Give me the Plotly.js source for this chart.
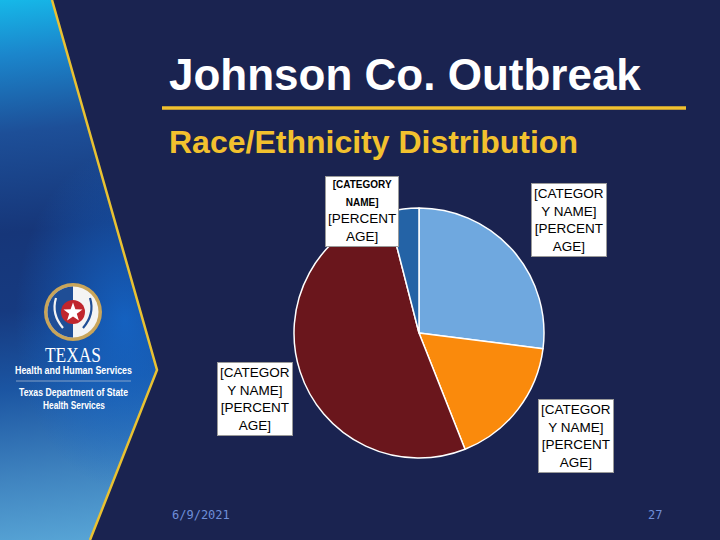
<!DOCTYPE html>
<html>
<head>
<meta charset="utf-8">
<script src="https://cdn.plot.ly/plotly-3.0.1.min.js"></script>
<style>
  html, body { margin: 0; padding: 0; }
  body { width: 720px; height: 540px; overflow: hidden; background: #1a2350; position: relative; font-family: "Liberation Sans", Arial, sans-serif; }
  #panel {
    position: absolute; left: 0; top: 0; width: 160px; height: 540px;
    clip-path: polygon(0 0, 52px 0, 157px 370px, 90px 540px, 0 540px);
    background:
      radial-gradient(ellipse 110px 170px at 125px 320px, rgba(20,105,205,0.8), rgba(20,105,205,0) 100%),
      linear-gradient(174deg, #16b8e8 0%, #1b86cc 10%, #1d4f98 24%, #163679 42%, #163a80 56%, #1b55a2 70%, #3f83bf 86%, #5aa8d8 100%);
  }
  #deco { position: absolute; left: 0; top: 0; }
  #chart { position: absolute; left: 0; top: 0; width: 720px; height: 540px; }
</style>
</head>
<body>
<div id="panel"></div>
<svg id="deco" width="720" height="540">
  <polyline points="52,0 157,370 90,540" fill="none" stroke="#e9c232" stroke-width="2.5"/>
  <line x1="162" y1="108" x2="686" y2="108" stroke="#f2c12e" stroke-width="3.5"/>
  <!-- seal -->
  <circle cx="73" cy="312" r="29" fill="#c9a55a"/>
  <circle cx="73" cy="312" r="25.5" fill="#f4f4f4"/>
  <path d="M73,286.5 A25.5,25.5 0 0 0 73,337.5 Z" fill="#1f4e96"/>
  <circle cx="73" cy="312" r="12" fill="#c0262d"/>
  <polygon points="73,302.5 75.4,309.3 82.5,309.4 76.8,313.7 78.9,320.5 73,316.4 67.1,320.5 69.2,313.7 63.5,309.4 70.6,309.3" fill="#ffffff"/>
  <path d="M56,298 Q51,314 63,328" fill="none" stroke="#f4f4f4" stroke-width="2.2"/>
  <path d="M90,298 Q95,314 83,328" fill="none" stroke="#1f4e96" stroke-width="2.2"/>
  <text x="73" y="362" text-anchor="middle" fill="#ffffff" font-family="Liberation Serif, DejaVu Serif, serif" font-size="20" textLength="56" lengthAdjust="spacingAndGlyphs">TEXAS</text>
  <text x="15" y="374" fill="#ffffff" font-family="Liberation Sans Narrow, Liberation Sans, sans-serif" font-weight="bold" font-size="10" textLength="117" lengthAdjust="spacingAndGlyphs">Health and Human Services</text>
  <line x1="16" y1="381" x2="131" y2="381" stroke="#9fb4d0" stroke-width="0.8"/>
  <text x="19" y="396" fill="#ffffff" font-family="Liberation Sans Narrow, Liberation Sans, sans-serif" font-weight="bold" font-size="10" textLength="109" lengthAdjust="spacingAndGlyphs">Texas Department of State</text>
  <text x="43" y="409" fill="#ffffff" font-family="Liberation Sans Narrow, Liberation Sans, sans-serif" font-weight="bold" font-size="10" textLength="62" lengthAdjust="spacingAndGlyphs">Health Services</text>
</svg>
<div id="chart"></div>
<script>
// Race/Ethnicity pie, slice order clockwise from 12 o'clock
const categories = ['Category A', 'Category B', 'Category C', 'Category D'];
const shares = [27, 17, 52, 4];
const sliceColors = ['#6fa8df', '#fa8a0c', '#6a161c', '#2463a6'];
const labelText = [
  '[CATEGOR<br>Y NAME]<br>[PERCENT<br>AGE]',
  '[CATEGOR<br>Y NAME]<br>[PERCENT<br>AGE]',
  '[CATEGOR<br>Y NAME]<br>[PERCENT<br>AGE]',
  '<span style="font-size:10px"><b>[CATEGORY</b></span><br><span style="font-size:10px"><b>NAME]</b></span><br>[PERCENT<br>AGE]'
];
// label box centres (px) for each slice
const labelPos = [[569, 220], [576, 436], [255, 399], [362, 211]];

const W = 720, H = 540;
const px = (x) => x / W, py = (y) => 1 - y / H;

const data = [{
  type: 'pie',
  labels: categories,
  values: shares,
  sort: false,
  direction: 'clockwise',
  rotation: 0,
  marker: { colors: sliceColors, line: { color: '#ffffff', width: 1.5 } },
  textinfo: 'none',
  hoverinfo: 'label+percent',
  showlegend: false,
  domain: { x: [px(294), px(544)], y: [py(458), py(208)] }
}];

const annotations = labelPos.map((p, i) => ({
  xref: 'paper', yref: 'paper', x: px(p[0]), y: py(p[1]),
  xanchor: 'center', yanchor: 'middle', showarrow: false,
  text: labelText[i], align: 'center',
  font: { family: 'Liberation Sans, Arial, sans-serif', size: 13.5, color: '#000000' },
  bgcolor: '#ffffff', bordercolor: '#9a9a9a', borderwidth: 1, borderpad: 2
}));

annotations.push(
  { xref: 'paper', yref: 'paper', x: px(167), y: py(75), xanchor: 'left', yanchor: 'middle', showarrow: false,
    text: '<b>Johnson Co. Outbreak</b>', font: { family: 'Liberation Sans, Arial, sans-serif', size: 44, color: '#ffffff' } },
  { xref: 'paper', yref: 'paper', x: px(167), y: py(142), xanchor: 'left', yanchor: 'middle', showarrow: false,
    text: '<b>Race/Ethnicity Distribution</b>', font: { family: 'Liberation Sans, Arial, sans-serif', size: 32, color: '#f2c12e' } },
  { xref: 'paper', yref: 'paper', x: px(170), y: py(515), xanchor: 'left', yanchor: 'middle', showarrow: false,
    text: '6/9/2021', font: { family: 'DejaVu Sans Mono, monospace', size: 12, color: '#6f8ed8' } },
  { xref: 'paper', yref: 'paper', x: px(664), y: py(515), xanchor: 'right', yanchor: 'middle', showarrow: false,
    text: '27', font: { family: 'DejaVu Sans Mono, monospace', size: 12, color: '#6f8ed8' } }
);

const layout = {
  width: W, height: H,
  margin: { l: 0, r: 0, t: 0, b: 0 },
  paper_bgcolor: 'rgba(0,0,0,0)',
  plot_bgcolor: 'rgba(0,0,0,0)',
  annotations: annotations
};

Plotly.newPlot('chart', data, layout, { displayModeBar: false, staticPlot: true });
</script>
</body>
</html>
